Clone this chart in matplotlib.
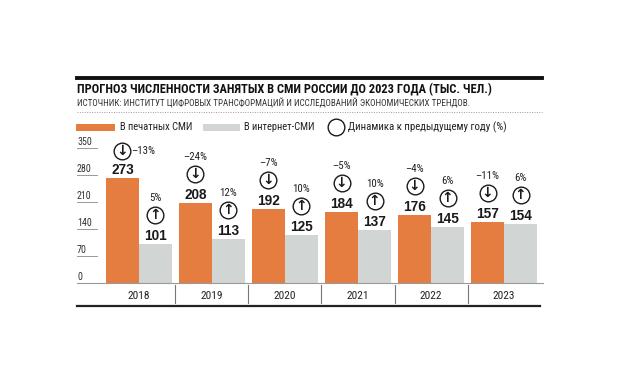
import matplotlib
matplotlib.use("Agg")
import matplotlib.pyplot as plt
from matplotlib.lines import Line2D
from matplotlib.patches import Rectangle
from matplotlib.transforms import offset_copy

# данные
years = ["2018", "2019", "2020", "2021", "2022", "2023"]
print_media = [273, 208, 192, 184, 176, 157]
online_media = [101, 113, 125, 137, 145, 154]
print_change = ["–13%", "–24%", "–7%", "–5%", "–4%", "–11%"]
online_change = ["5%", "12%", "10%", "10%", "6%", "6%"]
yticks = [0, 70, 140, 210, 280, 350]

title = "ПРОГНОЗ ЧИСЛЕННОСТИ ЗАНЯТЫХ В СМИ РОССИИ ДО 2023 ГОДА (ТЫС. ЧЕЛ.)"
subtitle = "ИСТОЧНИК: ИНСТИТУТ ЦИФРОВЫХ ТРАНСФОРМАЦИЙ И ИССЛЕДОВАНИЙ ЭКОНОМИЧЕСКИХ ТРЕНДОВ."
legend_labels = ["В печатных СМИ", "В интернет-СМИ", "Динамика к предыдущему году (%)"]

ORANGE = "#E57D40"
GRAY = "#D1D5D4"
DARK = "#1a1a1a"

plt.rcParams["font.family"] = ["Roboto Condensed", "DejaVu Sans"]

W, H = 619, 384
fig = plt.figure(figsize=(W / 100, H / 100), dpi=100)


def fx(px):
    return px / W


def fy(py):
    return 1 - py / H


# основная область: ноль на y=283, 0.386 px на единицу
ax = fig.add_axes([fx(77), fy(283), fx(543) - fx(77), 370 * 0.386 / H])
ax.set_xlim(-0.849, 5.534)
ax.set_ylim(0, 370)
ax.axis("off")

bw = 0.452
xs = range(len(years))
xo = [i - bw / 2 for i in xs]
xg = [i + bw / 2 for i in xs]
ax.bar(xo, print_media, width=bw, color=ORANGE, linewidth=0)
ax.bar(xg, online_media, width=bw, color=GRAY, linewidth=0)

# шкала
tr_lab = offset_copy(ax.transData, fig=fig, x=0, y=1, units="dots")
for t in yticks:
    if t > 0:
        ax.plot([-0.849, -0.575], [t, t], color="#888888", lw=0.6)
    ax.text(-0.849, t, str(t), transform=tr_lab, ha="left", va="bottom",
            fontsize=7.2, color="#333333")
ax.axhline(0, color="#999999", lw=0.8, clip_on=False)


def mark(x, v, label, arrow, pct, side=False):
    t1 = offset_copy(ax.transData, fig=fig, x=0, y=8, units="dots")
    ax.text(x, v, str(label), transform=t1, ha="center", va="center",
            fontsize=9.8, fontweight="bold", color=DARK,
            family=["Liberation Sans", "DejaVu Sans"])
    cy = 27 if side else 29
    t2 = offset_copy(ax.transData, fig=fig, x=0, y=cy, units="dots")
    ax.plot([x], [v], "o", ms=12, mfc="white", mec=DARK, mew=1.0,
            transform=t2, clip_on=False)
    ax.text(x, v, arrow, transform=t2, ha="center", va="center",
            fontsize=10, fontweight="bold", color=DARK,
            family=["DejaVu Sans"])
    if side:
        t3 = offset_copy(ax.transData, fig=fig, x=9, y=cy, units="dots")
        ax.text(x, v, pct, transform=t3, ha="left", va="center",
                fontsize=7.8, color="#222222")
    else:
        t3 = offset_copy(ax.transData, fig=fig, x=0, y=46, units="dots")
        ax.text(x, v, pct, transform=t3, ha="center", va="center",
                fontsize=7.8, color="#222222")


for i in xs:
    mark(xo[i], print_media[i], print_media[i], "↓", print_change[i], side=(i == 0))
    mark(xg[i], online_media[i], online_media[i], "↑", online_change[i])

# подписи годов и разделители
for i in xs:
    ax.text(i, -34, years[i], ha="center", va="center", fontsize=8.2,
            color="#222222", clip_on=False)
    if i > 0:
        ax.plot([i - 0.5, i - 0.5], [-6, -52], color="#777777", lw=0.8,
                clip_on=False)
ax.plot([-0.849, 5.49], [-60, -60], color="#222222", lw=1.6, clip_on=False)

# шапка
fig.add_artist(Line2D([fx(77), fx(542)], [fy(78), fy(78)], color="#111111",
                      lw=2.8, transform=fig.transFigure))
fig.text(fx(77), fy(90), title, ha="left", va="center", fontsize=8.9,
         fontweight="bold", color="#111111")
fig.text(fx(77), fy(103), subtitle, ha="left", va="center", fontsize=6.5,
         color="#333333")
fig.add_artist(Line2D([fx(77), fx(542)], [fy(112), fy(112)], color="#999999",
                      lw=0.7, ls=(0, (1, 1.5)), transform=fig.transFigure))

# легенда
fig.add_artist(Rectangle((fx(76), fy(131)), fx(39), 7 / H, color=ORANGE,
                         lw=0, transform=fig.transFigure))
fig.text(fx(120), fy(127), legend_labels[0], ha="left", va="center",
         fontsize=7.6, color="#222222")
fig.add_artist(Rectangle((fx(203), fy(131)), fx(37), 7 / H, color=GRAY,
                         lw=0, transform=fig.transFigure))
fig.text(fx(244), fy(127), legend_labels[1], ha="left", va="center",
         fontsize=7.6, color="#222222")
fig.add_artist(Line2D([fx(336)], [fy(127)], marker="o", ms=12, mfc="white",
                      mec=DARK, mew=1.0, transform=fig.transFigure))
fig.text(fx(348), fy(127), legend_labels[2], ha="left", va="center",
         fontsize=7.8, color="#222222")

fig.savefig("out.png", dpi=100, facecolor="white")
